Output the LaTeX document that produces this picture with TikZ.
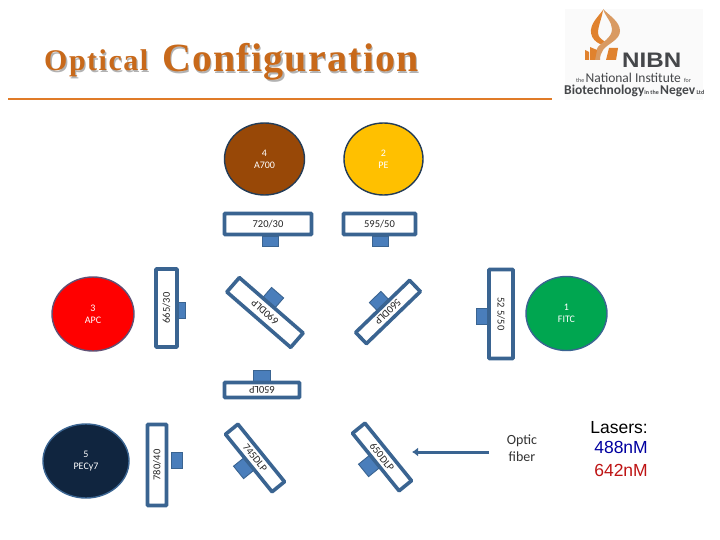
\documentclass[tikz,border=0pt]{standalone}
\usepackage{fontspec}
\setmainfont{Carlito}
\newfontfamily\arialf{Liberation Sans}
\newfontfamily\titleone[LetterSpace=5]{Liberation Serif}
\newfontfamily\titletwo[LetterSpace=3]{Liberation Serif}
\definecolor{edgeblue}{HTML}{3A6491}
\definecolor{tabblue}{HTML}{4A7EBB}
\definecolor{titleor}{HTML}{C8691A}
\definecolor{ruleor}{HTML}{E07B28}
\definecolor{logoor}{HTML}{E0822E}
\definecolor{logotan}{HTML}{D99A62}
\definecolor{logogr}{HTML}{45474A}
\usetikzlibrary{shapes.geometric,arrows.meta}
\tikzset{
  x=1pt,y=-1pt,
  dye/.style={ellipse,draw=#1,line width=1.4pt,inner sep=0pt,align=center,text=white,font=\fontsize{10}{12}\selectfont},
  filterbox/.style={draw=edgeblue,line width=3.6pt,fill=white,rounded corners=0.6pt,inner sep=0pt,font=\fontsize{10.5}{12}\selectfont,text=black!85},
  tabbox/.style={draw=edgeblue,line width=0.9pt,fill=tabblue,inner sep=0pt},
  titletext/.style={text=titleor,inner sep=0pt,anchor=base west},
  titleshadow/.style={text=black!30,inner sep=0pt,anchor=base west},
  logotext/.style={text=logogr,inner sep=0pt,anchor=base west}
}
\begin{document}
\begin{tikzpicture}
\useasboundingbox (0,0) rectangle (720,540);
\fill[white] (0,0) rectangle (720,540);

% title
\node[titleshadow,font=\titleone\bfseries\fontsize{30}{30}\selectfont] (s1) at (45.3,72.3) {Optical};
\node[titletext,font=\titleone\bfseries\fontsize{30}{30}\selectfont] (t1) at (44,71) {Optical};
\node[titleshadow,font=\titletwo\bfseries\fontsize{40}{40}\selectfont] (s2) at (163.3,73.3) {Configuration};
\node[titletext,font=\titletwo\bfseries\fontsize{40}{40}\selectfont] (t2) at (162,72) {Configuration};
\fill[ruleor] (8,97.6) rectangle (552,100.4);

% circles
\node[dye=edgeblue!60!black,fill={rgb,255:red,152;green,72;blue,7},minimum width=80pt,minimum height=72pt] (a700) at (264.5,159) {4\\A700};
\node[dye=edgeblue!60!black,fill={rgb,255:red,255;green,192;blue,0},minimum width=79pt,minimum height=72pt] (pe) at (383.5,159) {2\\PE};
\node[dye=edgeblue!80!red,fill={rgb,255:red,255;green,0;blue,0},minimum width=82pt,minimum height=74pt] (apc) at (93,314) {3\\APC};
\node[dye=edgeblue,fill={rgb,255:red,16;green,37;blue,63},minimum width=86pt,minimum height=74pt] (pecy) at (86,461) {5\\PECy7};
\node[dye=edgeblue,fill={rgb,255:red,0;green,166;blue,80},minimum width=81pt,minimum height=74pt] (fitc) at (566.5,313.5) {1\\FITC};

% straight filters
\node[tabbox,minimum width=16pt,minimum height=10pt] (t720) at (270,241) {};
\node[filterbox,minimum width=87pt,minimum height=21pt] (f720) at (268,224) {720/30};
\node[tabbox,minimum width=16pt,minimum height=10pt] (t595) at (380,241) {};
\node[filterbox,minimum width=72pt,minimum height=21pt] (f595) at (379.5,224) {595/50};
\node[tabbox,minimum width=9pt,minimum height=16pt] (t665) at (181,310) {};
\node[filterbox,minimum width=78pt,minimum height=21pt,rotate=90] (f665) at (166.5,308) {665/30};
\node[tabbox,minimum width=11pt,minimum height=16pt] (t780) at (177,460.5) {};
\node[filterbox,minimum width=81pt,minimum height=19pt,rotate=90] (f780) at (157,465) {780/40};
\node[tabbox,minimum width=11pt,minimum height=16pt] (t525) at (482,316) {};
\node[filterbox,minimum width=89pt,minimum height=24pt,rotate=-90] (f525) at (501,314) {52 5/50};
\node[tabbox,minimum width=17pt,minimum height=11pt] (t650) at (261.5,376) {};
\node[filterbox,minimum width=75pt,minimum height=15pt,rotate=180] (f650) at (262,390) {650LP};

% diagonal filters
\node[tabbox,minimum width=16pt,minimum height=14pt,rotate=-41] (t690) at (273,298) {};
\node[filterbox,minimum width=84.5pt,minimum height=19pt,rotate=139] (f690) at (265,312.5) {690DLP};
\node[tabbox,minimum width=16pt,minimum height=14pt,rotate=44] (t560) at (380,302) {};
\node[filterbox,minimum width=75pt,minimum height=15.5pt,rotate=224] (f560) at (388,312) {560DLP};
\node[tabbox,minimum width=16pt,minimum height=14pt,rotate=-51] (t745) at (244,468) {};
\node[filterbox,minimum width=74pt,minimum height=16pt,rotate=-51] (f745) at (255,458) {745DLP};
\node[tabbox,minimum width=16pt,minimum height=14pt,rotate=-51] (t6500) at (369,466) {};
\node[filterbox,minimum width=74pt,minimum height=16pt,rotate=-51] (f6500) at (382,457) {650DLP};

% fibre
\node[font=\fontsize{14}{17}\selectfont,align=center,text=black!80,inner sep=0pt] (fiber) at (522,448.5) {Optic\\fiber};
\coordinate (fibstart) at (489,452);
\coordinate (fibend) at (412,452);
\draw[edgeblue,line width=3pt,-{Latex[length=6pt,width=9pt]}] (fibstart) -- (fibend);

% lasers
\node[font=\arialf\fontsize{17.5}{17.5}\selectfont,inner sep=0pt,anchor=base east] (las) at (648,433) {Lasers:};
\node[font=\arialf\fontsize{17.5}{17.5}\selectfont,inner sep=0pt,anchor=base east,text={rgb,255:red,0;green,0;blue,160}] (l488) at (648,453) {488nM};
\node[font=\arialf\fontsize{17.5}{17.5}\selectfont,inner sep=0pt,anchor=base east,text={rgb,255:red,190;green,20;blue,20}] (l642) at (648,476) {642nM};

% logo
\fill[black!2] (565,9) rectangle (703,100);
\fill[logoor] (603,10) .. controls (597,18) and (590,24) .. (591,33) .. controls (592,39) and (596,42) .. (600,44) .. controls (603,46) and (606,46) .. (608,44) .. controls (603,40) and (598,38) .. (598,33) .. controls (598,26) and (602,18) .. (603,10) -- cycle;
\fill[logotan] (603,9) .. controls (610,16) and (620,22) .. (620,31) .. controls (620,40) and (607,44) .. (603,50) .. controls (601,53) and (600,56) .. (600,60) -- (595,60) .. controls (595,54) and (596,50) .. (598,47) .. controls (602,42) and (612,38) .. (612,29) .. controls (612,22) and (605,16) .. (603,9) -- cycle;
\fill[logoor] (590,47) -- (597,50) -- (595,60) -- (590,60) -- cycle;
\fill[logoor] (585,50) -- (589,52) -- (589,60) -- (585,60) -- cycle;
\fill[logoor] (609,48) -- (618,48) -- (616,60) -- (606,60) -- cycle;
\node[logotext,font=\arialf\bfseries\fontsize{21}{21}\selectfont,xscale=1.15,anchor=base west] (nibn) at (622,68) {NIBN};
\node[logotext,font=\fontsize{13.5}{13.5}\selectfont] (nat) at (576,83) {{\fontsize{6}{6}\selectfont the }National Institute {\fontsize{6}{6}\selectfont for}};
\node[logotext,font=\fontsize{13.5}{13.5}\selectfont\bfseries] (bio) at (564,95) {Biotechnology{\fontsize{6}{6}\selectfont in the }Negev{\fontsize{6}{6}\selectfont\ Ltd}};
\end{tikzpicture}
\end{document}
